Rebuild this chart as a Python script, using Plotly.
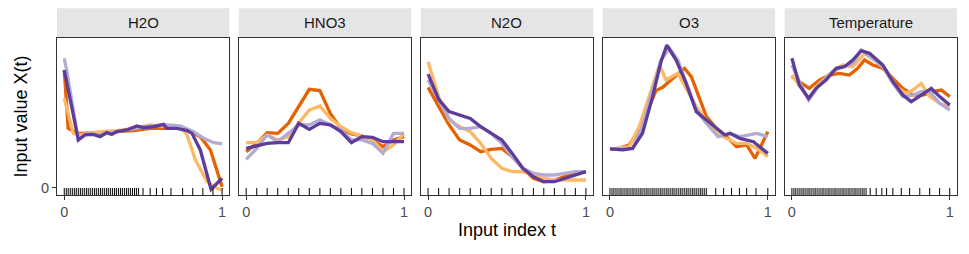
import plotly.graph_objects as go
from plotly.subplots import make_subplots

# Facet names and line colours (PuOr palette)
PANELS = ['H2O', 'HNO3', 'N2O', 'O3', 'Temperature']
COLORS = ['#e66101', '#fdb863', '#b2abd2', '#5e3c99']

# --- H2O: one (t, value) list per curve ---
H2O_T1 = [0, 0.025, 0.089, 0.142, 0.227, 0.333, 0.439, 0.544, 0.650, 0.735, 0.788, 0.862, 0.926, 0.968, 1.0]
H2O_V1 = [0.825, 0.417, 0.382, 0.382, 0.387, 0.394, 0.401, 0.417, 0.417, 0.417, 0.401, 0.359, 0.266, 0.126, 0.009]
H2O_T2 = [0, 0.025, 0.057, 0.1, 0.142, 0.227, 0.333, 0.439, 0.544, 0.650, 0.746, 0.778, 0.831, 0.905, 0.968, 1.0]
H2O_V2 = [0.627, 0.522, 0.382, 0.371, 0.382, 0.394, 0.401, 0.417, 0.441, 0.429, 0.417, 0.371, 0.196, 0.044, -0.002, -0.014]
H2O_T3 = [0, 0.015, 0.047, 0.089, 0.142, 0.227, 0.333, 0.439, 0.544, 0.650, 0.735, 0.820, 0.883, 0.947, 1.0]
H2O_V3 = [0.907, 0.825, 0.615, 0.336, 0.382, 0.371, 0.394, 0.417, 0.434, 0.441, 0.434, 0.394, 0.347, 0.317, 0.308]
H2O_T4 = [0, 0.025, 0.057, 0.089, 0.131, 0.184, 0.227, 0.269, 0.301, 0.333, 0.396, 0.460, 0.502, 0.566,
          0.629, 0.650, 0.714, 0.778, 0.809, 0.862, 0.930, 1.0]
H2O_V4 = [0.825, 0.685, 0.499, 0.336, 0.371, 0.375, 0.359, 0.387, 0.375, 0.394, 0.406, 0.434, 0.422, 0.429,
          0.445, 0.417, 0.417, 0.401, 0.382, 0.266, -0.009, 0.068]

# --- HNO3 and N2O share an even 16-point grid ---
GRID16 = [0, 0.067, 0.133, 0.2, 0.267, 0.333, 0.4, 0.467, 0.533, 0.6, 0.667, 0.733, 0.8, 0.867, 0.933, 1.0]
HNO3_V1 = [0.254, 0.312, 0.387, 0.382, 0.452, 0.569, 0.690, 0.681, 0.522, 0.417, 0.378, 0.364, 0.336, 0.289, 0.336, 0.359]
HNO3_V2 = [0.317, 0.317, 0.371, 0.336, 0.359, 0.457, 0.545, 0.573, 0.487, 0.429, 0.387, 0.359, 0.336, 0.254, 0.301, 0.382]
HNO3_V3 = [0.200, 0.277, 0.371, 0.324, 0.382, 0.441, 0.441, 0.476, 0.441, 0.406, 0.336, 0.336, 0.312, 0.242, 0.382, 0.382]
HNO3_V4 = [0.277, 0.296, 0.312, 0.317, 0.317, 0.452, 0.410, 0.452, 0.441, 0.394, 0.317, 0.359, 0.354, 0.324, 0.324, 0.324]

N2O_V1 = [0.704, 0.569, 0.441, 0.336, 0.301, 0.254, 0.270, 0.277, 0.219, 0.138, 0.068, 0.044, 0.056, 0.079, 0.103, 0.114]
N2O_V2 = [0.883, 0.639, 0.476, 0.429, 0.394, 0.312, 0.207, 0.138, 0.114, 0.114, 0.091, 0.068, 0.056, 0.056, 0.056, 0.056]
N2O_V3 = [0.755, 0.615, 0.487, 0.417, 0.417, 0.429, 0.382, 0.312, 0.219, 0.138, 0.103, 0.091, 0.091, 0.103, 0.114, 0.114]
N2O_V4 = [0.797, 0.620, 0.534, 0.510, 0.487, 0.429, 0.382, 0.336, 0.242, 0.138, 0.079, 0.044, 0.044, 0.068, 0.091, 0.114]

# --- O3 ---
O3_T1 = [0, 0.057, 0.121, 0.185, 0.249, 0.291, 0.334, 0.398, 0.472, 0.515, 0.568, 0.611, 0.674, 0.738, 0.802, 0.866, 0.919, 0.962, 1.0]
O3_V1 = [0.273, 0.277, 0.301, 0.406, 0.569, 0.681, 0.704, 0.767, 0.837, 0.779, 0.615, 0.499, 0.417, 0.359, 0.289, 0.301, 0.207, 0.312, 0.394]
O3_T2 = [0, 0.121, 0.185, 0.249, 0.313, 0.355, 0.430, 0.483, 0.547, 0.611, 0.674, 0.738, 0.802, 0.866, 0.930, 1.0]
O3_V2 = [0.273, 0.289, 0.429, 0.639, 0.860, 0.755, 0.802, 0.697, 0.569, 0.476, 0.382, 0.347, 0.312, 0.312, 0.277, 0.219]
O3_T3 = [0, 0.143, 0.206, 0.270, 0.323, 0.377, 0.430, 0.483, 0.547, 0.611, 0.685, 0.760, 0.823, 0.930, 1.0]
O3_V3 = [0.273, 0.277, 0.429, 0.674, 0.895, 0.977, 0.895, 0.732, 0.545, 0.452, 0.359, 0.382, 0.359, 0.382, 0.359]
O3_T4 = [0, 0.079, 0.143, 0.206, 0.270, 0.323, 0.360, 0.419, 0.483, 0.547, 0.611, 0.685, 0.728, 0.760, 0.823, 0.909, 1.0]
O3_V4 = [0.273, 0.266, 0.277, 0.382, 0.639, 0.883, 1.0, 0.895, 0.732, 0.534, 0.476, 0.406, 0.371, 0.382, 0.347, 0.324, 0.242]

# --- Temperature ---
TEMP_T1 = [0, 0.047, 0.110, 0.174, 0.237, 0.301, 0.364, 0.417, 0.460, 0.513, 0.576, 0.640, 0.703, 0.767, 0.831, 0.894, 0.947, 1.0]
TEMP_V1 = [0.779, 0.744, 0.697, 0.755, 0.790, 0.802, 0.790, 0.837, 0.895, 0.860, 0.837, 0.767, 0.697, 0.650, 0.650, 0.674, 0.685, 0.639]
TEMP_T2 = [0, 0.047, 0.106, 0.174, 0.258, 0.322, 0.386, 0.460, 0.534, 0.597, 0.661, 0.725, 0.767, 0.820, 0.873, 0.936, 1.0]
TEMP_V2 = [0.790, 0.720, 0.627, 0.732, 0.814, 0.860, 0.848, 0.942, 0.883, 0.825, 0.709, 0.662, 0.685, 0.732, 0.639, 0.592, 0.569]
TEMP_T3 = [0, 0.057, 0.106, 0.174, 0.258, 0.322, 0.386, 0.439, 0.513, 0.576, 0.640, 0.703, 0.767, 0.820, 0.873, 0.936, 1.0]
TEMP_V3 = [0.860, 0.720, 0.615, 0.720, 0.814, 0.848, 0.872, 0.965, 0.907, 0.848, 0.732, 0.639, 0.650, 0.674, 0.674, 0.592, 0.545]
TEMP_T4 = [0, 0.047, 0.106, 0.153, 0.216, 0.280, 0.333, 0.386, 0.439, 0.492, 0.576, 0.640, 0.703, 0.756, 0.820, 0.883, 0.936, 1.0]
TEMP_V4 = [0.907, 0.720, 0.627, 0.697, 0.755, 0.837, 0.848, 0.895, 0.960, 0.942, 0.860, 0.744, 0.650, 0.604, 0.650, 0.697, 0.639, 0.580]

# --- Rug: positions of the input indices in each panel ---
DENSE = [0, 0.013, 0.025, 0.038, 0.051, 0.064, 0.076, 0.089, 0.102, 0.114, 0.127, 0.140, 0.152, 0.165,
         0.178, 0.191, 0.203, 0.216, 0.229, 0.241, 0.254, 0.267, 0.279, 0.292, 0.305, 0.318, 0.330,
         0.343, 0.356, 0.368, 0.381, 0.394, 0.406, 0.419, 0.432, 0.445, 0.457, 0.470]
DENSE_O3 = [0.483, 0.495, 0.508, 0.521, 0.533, 0.546, 0.559, 0.572, 0.584, 0.597, 0.610]
H2O_RUG = DENSE + [0.499, 0.544, 0.584, 0.623, 0.676, 0.75, 0.814, 0.878, 0.942, 1.0]
O3_RUG = DENSE + DENSE_O3 + [0.67, 0.72, 0.77, 0.82, 0.866, 0.925, 1.0]
TEMP_RUG = DENSE + [0.496, 0.534, 0.57, 0.60, 0.64, 0.693, 0.746, 0.81, 0.873, 0.936, 1.0]

LINES = {
    'H2O': [(H2O_T1, H2O_V1), (H2O_T2, H2O_V2), (H2O_T3, H2O_V3), (H2O_T4, H2O_V4)],
    'HNO3': [(GRID16, HNO3_V1), (GRID16, HNO3_V2), (GRID16, HNO3_V3), (GRID16, HNO3_V4)],
    'N2O': [(GRID16, N2O_V1), (GRID16, N2O_V2), (GRID16, N2O_V3), (GRID16, N2O_V4)],
    'O3': [(O3_T1, O3_V1), (O3_T2, O3_V2), (O3_T3, O3_V3), (O3_T4, O3_V4)],
    'Temperature': [(TEMP_T1, TEMP_V1), (TEMP_T2, TEMP_V2), (TEMP_T3, TEMP_V3), (TEMP_T4, TEMP_V4)],
}
RUGS = {'H2O': H2O_RUG, 'HNO3': GRID16, 'N2O': GRID16, 'O3': O3_RUG, 'Temperature': TEMP_RUG}

Y_RANGE = [-0.049, 1.049]
X_RANGE = [-0.046, 1.046]
FONT = 'Liberation Sans, Arial, Helvetica, sans-serif'

fig = make_subplots(rows=1, cols=5, shared_yaxes=True, horizontal_spacing=0.0106)

for i, name in enumerate(PANELS, start=1):
    for (t, v), color in zip(LINES[name], COLORS):
        fig.add_trace(go.Scatter(
            x=t, y=v, mode='lines',
            line=dict(color=color, width=3.3),
            showlegend=False, hoverinfo='skip'
        ), row=1, col=i)

    # Rug ticks: markers centred on the bottom edge, lower half clipped away
    rug = RUGS[name]
    fig.add_trace(go.Scatter(
        x=rug, y=[Y_RANGE[0]] * len(rug), mode='markers',
        marker=dict(symbol='line-ns', size=10, line=dict(width=1, color='#000000')),
        cliponaxis=True, showlegend=False, hoverinfo='skip'
    ), row=1, col=i)

    xref = 'x domain' if i == 1 else f'x{i} domain'
    # Facet strip
    fig.add_shape(type='rect', xref=xref, yref='paper', x0=0, x1=1, y0=1.0, y1=1.19,
                  fillcolor='#e5e5e5', line=dict(width=0), layer='below')
    fig.add_annotation(text=name, xref=xref, yref='paper', x=0.5, y=1.098,
                       showarrow=False, font=dict(size=15, color='#1a1a1a', family=FONT),
                       xanchor='center', yanchor='middle')

fig.update_xaxes(
    range=X_RANGE, tickvals=[0, 1], ticktext=['0', '1'],
    ticks='outside', ticklen=4, tickcolor='#333333',
    showline=True, mirror=True, linecolor='#333333', linewidth=1,
    showgrid=False, zeroline=False,
    tickfont=dict(size=14.5, color='#4d4d4d', family=FONT)
)
fig.update_yaxes(
    range=Y_RANGE, tickvals=[0], ticktext=['0'],
    showline=True, mirror=True, linecolor='#333333', linewidth=1,
    showgrid=False, zeroline=False,
    tickfont=dict(size=14.5, color='#4d4d4d', family=FONT)
)
fig.update_yaxes(ticks='outside', ticklen=4, tickcolor='#333333', row=1, col=1)
for c in range(2, 6):
    fig.update_yaxes(ticks='', showticklabels=False, row=1, col=c)

# Axis titles
fig.add_annotation(text='Input index t', xref='paper', yref='paper', x=0.5, y=-0.223,
                   showarrow=False, xanchor='center', yanchor='middle',
                   font=dict(size=18, color='#000000', family=FONT))
fig.add_annotation(text='Input value X(t)', xref='paper', yref='paper', x=-0.041, y=0.5,
                   textangle=-90, showarrow=False, xanchor='center', yanchor='middle',
                   font=dict(size=18, color='#000000', family=FONT))

# The page body adds an 8px margin, so the figure is 8px smaller and margins are shifted
fig.update_layout(
    width=961, height=246,
    margin=dict(l=49, r=12, t=30, b=59),
    plot_bgcolor='white', paper_bgcolor='white',
    font=dict(family=FONT)
)

fig.write_html("out.html")
